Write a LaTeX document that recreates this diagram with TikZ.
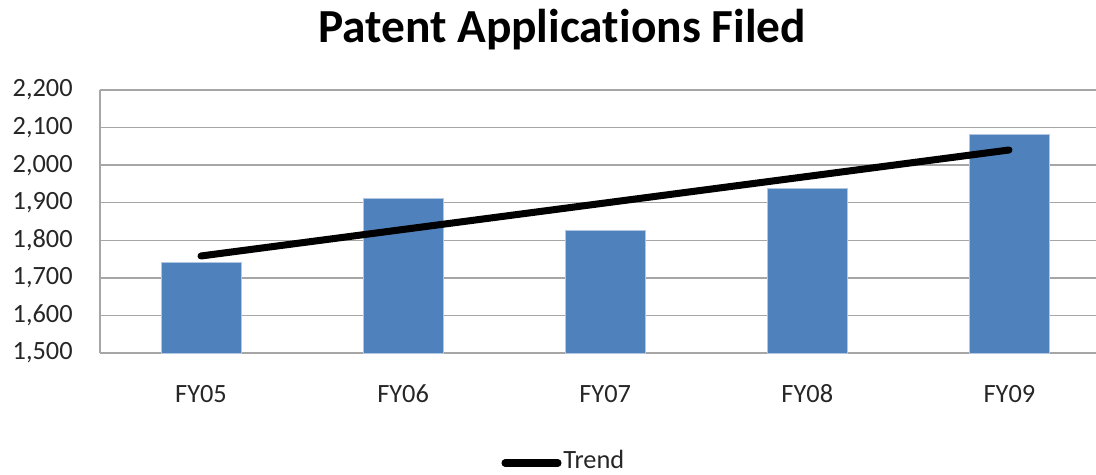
\documentclass[tikz,border=0pt]{standalone}
\usepackage{fontspec}
\setmainfont{Carlito}[Ligatures=NoCommon]
\usepackage{xcolor}
\usetikzlibrary{positioning}

\definecolor{barblue}{HTML}{4F81BD}
\definecolor{gridgray}{HTML}{A6A6A6}
\definecolor{labelgray}{HTML}{262626}

\begin{document}
\begin{tikzpicture}[x=0.02cm, y=-0.02cm,
  gridline/.style={gridgray, line width=0.85pt},
  ticklabel/.style={font=\fontsize{15}{18}\selectfont, text=labelgray, anchor=base east, inner sep=0pt},
  catlabel/.style={font=\fontsize{15}{18}\selectfont, text=labelgray, anchor=base, inner sep=0pt},
  bar/.style={fill=barblue, draw=barblue!45!white, line width=0.5pt},
  trend/.style={black, line width=4pt, line cap=round}]

\useasboundingbox (0,0) rectangle (1096,475);

% Title
\node[font=\bfseries\fontsize{27}{32}\selectfont, inner sep=0pt, anchor=base] (title) at (562,43) {Patent Applications Filed};

% Grid and value axis (1500 at y=353, 2200 at y=90)
\foreach \i/\lab in {0/{1,500},1/{1,600},2/{1,700},3/{1,800},4/{1,900},5/{2,000},6/{2,100},7/{2,200}} {
  \pgfmathsetmacro\gy{353-\i*263/7}
  \draw[gridline] (100,\gy) -- (1096,\gy);
  \node[ticklabel] (tick\i) at (73,\gy+7) {\lab};
}
\draw[gridline] (100,90) -- (100,353);

% Bars
\foreach \k/\val/\name in {1/1742/FY05,2/1912/FY06,3/1825/FY07,4/1939/FY08,5/2083/FY09} {
  \pgfmathsetmacro\cx{201+202.1*(\k-1)}
  \pgfmathsetmacro\ty{353-(\val-1500)/700*263}
  \draw[bar] (\cx-40,353) rectangle (\cx+40,\ty);
  \node[catlabel] (cat\k) at (\cx,403) {\name};
}

% Trend line
\coordinate (trendA) at (201,256);
\coordinate (trendB) at (1009,150);
\draw[trend] (trendA) -- (trendB);

% Legend
\coordinate (legA) at (505,463);
\coordinate (legB) at (558,463);
\draw[trend] (legA) -- (legB);
\node[catlabel, anchor=base west] (legtext) at (563,469) {Trend};

\end{tikzpicture}
\end{document}
